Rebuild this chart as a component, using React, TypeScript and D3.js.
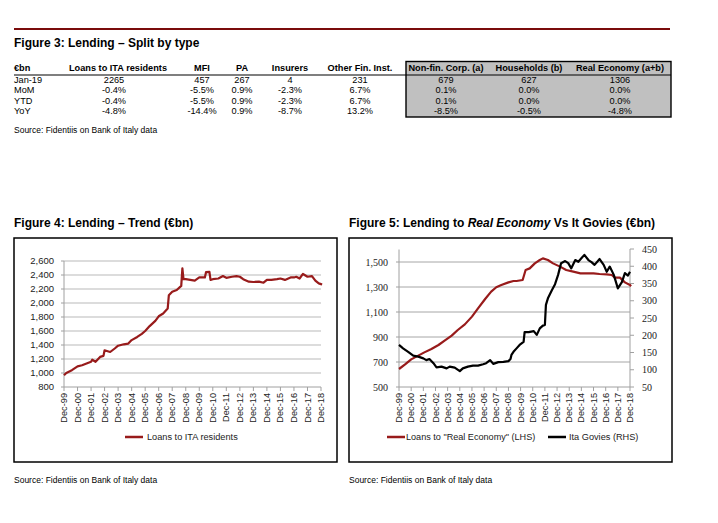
import React from "react"
import * as d3 from "d3"

// Figure 3 table
const tableHeaders = [
  "Loans to ITA residents",
  "MFI",
  "PA",
  "Insurers",
  "Other Fin. Inst.",
  "Non-fin. Corp. (a)",
  "Households (b)",
  "Real Economy (a+b)",
]
const tableRowLabels = ["Jan-19", "MoM", "YTD", "YoY"]
const tableValues = [
  ["2265", "457", "267", "4", "231", "679", "627", "1306"],
  ["-0.4%", "-5.5%", "0.9%", "-2.3%", "6.7%", "0.1%", "0.0%", "0.0%"],
  ["-0.4%", "-5.5%", "0.9%", "-2.3%", "6.7%", "0.1%", "0.0%", "0.0%"],
  ["-4.8%", "-14.4%", "0.9%", "-8.7%", "13.2%", "-8.5%", "-0.5%", "-4.8%"],
]

// x tick labels shared by both charts
const yearTicks = [
  "Dec-99", "Dec-00", "Dec-01", "Dec-02", "Dec-03", "Dec-04", "Dec-05", "Dec-06", "Dec-07", "Dec-08",
  "Dec-09", "Dec-10", "Dec-11", "Dec-12", "Dec-13", "Dec-14", "Dec-15", "Dec-16", "Dec-17", "Dec-18",
]

// Figure 4: loans to ITA residents (€bn)
const loansDates = [
  "1999-12", "2000-02", "2000-07", "2000-12", "2001-04", "2001-08", "2001-12", "2002-01", "2002-04", "2002-08",
  "2002-11", "2002-12", "2003-02", "2003-05", "2003-09", "2003-12", "2004-05", "2004-09", "2004-12", "2005-05",
  "2005-09", "2005-12", "2006-04", "2006-09", "2006-12", "2007-04", "2007-08", "2007-09", "2007-12", "2008-04",
  "2008-08", "2008-09", "2008-10", "2008-12", "2009-04", "2009-08", "2009-12", "2010-05", "2010-06", "2010-09",
  "2010-10", "2010-12", "2011-05", "2011-09", "2011-12", "2012-05", "2012-09", "2012-12", "2013-03", "2013-08",
  "2013-12", "2014-05", "2014-09", "2014-12", "2015-04", "2015-09", "2015-12", "2016-04", "2016-09", "2016-12",
  "2017-02", "2017-05", "2017-08", "2017-12", "2018-04", "2018-07", "2018-10", "2018-12", "2019-01",
]
const loansValues = [
  967, 1000, 1040, 1095, 1110, 1135, 1160, 1190, 1160, 1230,
  1245, 1325, 1315, 1300, 1350, 1390, 1410, 1420, 1470, 1515,
  1560, 1600, 1670, 1745, 1810, 1850, 1920, 2110, 2160, 2185,
  2245, 2495, 2340, 2340, 2330, 2320, 2365, 2365, 2440, 2445,
  2330, 2340, 2350, 2385, 2360, 2375, 2385, 2375, 2340, 2305,
  2300, 2305, 2290, 2330, 2330, 2340, 2350, 2330, 2365, 2365,
  2375, 2350, 2415, 2375, 2385, 2320, 2280, 2270, 2265,
]
const loansTicks = [800, 1000, 1200, 1400, 1600, 1800, 2000, 2200, 2400, 2600]

// Figure 5: loans to real economy (LHS) vs Italian govies (RHS)
const realEcoDates = [
  "1999-12", "2000-06", "2000-12", "2001-07", "2002-01", "2002-08", "2003-03", "2003-09", "2004-04", "2004-10",
  "2005-05", "2005-12", "2006-06", "2007-01", "2007-07", "2007-12", "2008-05", "2008-12", "2009-05", "2009-08",
  "2010-02", "2010-05", "2010-09", "2011-02", "2011-07", "2011-10", "2012-03", "2012-08", "2013-03", "2013-09",
  "2014-04", "2014-11", "2015-05", "2015-12", "2016-06", "2017-01", "2017-06", "2017-09", "2018-02", "2018-07",
  "2018-12", "2019-01",
]
const realEcoValues = [
  644, 681, 721, 751, 777, 804, 836, 871, 911, 956,
  1001, 1063, 1129, 1204, 1263, 1298, 1316, 1337, 1348, 1348,
  1356, 1436, 1449, 1489, 1516, 1529, 1516, 1489, 1463, 1436,
  1423, 1409, 1409, 1409, 1404, 1401, 1396, 1375, 1375, 1337,
  1316, 1306,
]
const govDates = [
  "1999-12", "2000-04", "2000-09", "2001-02", "2001-07", "2001-12", "2002-03", "2002-06", "2002-10", "2003-01",
  "2003-06", "2003-11", "2004-02", "2004-07", "2004-12", "2005-03", "2005-08", "2006-01", "2006-06", "2006-11",
  "2007-02", "2007-06", "2007-09", "2008-02", "2008-07", "2008-12", "2009-02", "2009-03", "2009-05", "2009-08",
  "2009-11", "2010-03", "2010-04", "2010-08", "2011-01", "2011-04", "2011-07", "2011-10", "2011-12", "2012-01",
  "2012-03", "2012-07", "2012-10", "2013-01", "2013-04", "2013-08", "2013-11", "2014-02", "2014-06", "2014-09",
  "2014-12", "2015-03", "2015-07", "2015-10", "2016-01", "2016-06", "2016-10", "2017-01", "2017-04", "2017-08",
  "2017-12", "2018-04", "2018-07", "2018-10", "2018-12",
]
const govValues = [
  172, 162, 152, 141, 138, 133, 128, 131, 119, 107,
  109, 104, 109, 106, 96, 104, 109, 112, 112, 116,
  119, 128, 117, 122, 123, 125, 131, 143, 152, 162,
  172, 181, 209, 209, 212, 201, 220, 228, 230, 288,
  307, 331, 348, 375, 409, 415, 409, 394, 418, 413,
  423, 433, 418, 412, 404, 421, 404, 384, 399, 375,
  336, 354, 380, 373, 384,
]
const leftTicks = [500, 700, 900, 1100, 1300, 1500]
const rightTicks = [50, 100, 150, 200, 250, 300, 350, 400, 450]

const RED = "#981b1b"
const SANS = "'Liberation Sans', Arial, sans-serif"
const SERIF = "'Liberation Serif', 'Times New Roman', serif"

const parseMonth = d3.timeParse("%Y-%m")
const parseTick = d3.timeParse("%b-%y")
const tickDates = yearTicks.map((t) => parseTick(t) as Date)

type Pt = { date: Date; value: number }
const zip = (dates: string[], values: number[]): Pt[] =>
  dates.map((d, i) => ({ date: parseMonth(d) as Date, value: values[i] }))

const colCenters = [114, 202, 242, 290, 360, 446, 529, 620]
const rowBaselines = [82.5, 93, 103.5, 114]

const Table = () => (
  <g fontFamily={SANS} fontSize={9.2}>
    <rect x={406} y={61.5} width={265} height={55.5} fill="#c0c0c0" stroke="#000" strokeWidth={1.4} />
    <line x1={14} x2={406} y1={75} y2={75} stroke="#000" strokeWidth={1.2} />
    <line x1={406} x2={671} y1={75} y2={75} stroke="#000" strokeWidth={1.2} />
    <text x={14} y={71} fontWeight="bold">€bn</text>
    {tableHeaders.map((h, i) => (
      <text key={h} x={i === 0 ? 118 : colCenters[i]} y={71} textAnchor="middle" fontWeight="bold">
        {h}
      </text>
    ))}
    {tableRowLabels.map((r, j) => (
      <g key={r}>
        <text x={14} y={rowBaselines[j]}>{r}</text>
        {tableValues[j].map((v, i) => (
          <text key={i} x={colCenters[i]} y={rowBaselines[j]} textAnchor="middle">
            {v}
          </text>
        ))}
      </g>
    ))}
  </g>
)

const XAxis = ({ x, y0, x0, x1 }: { x: d3.ScaleTime<number, number>; y0: number; x0: number; x1: number }) => (
  <g>
    <line x1={x0} x2={x1} y1={y0} y2={y0} stroke="#a0a0a0" strokeWidth={1} />
    {tickDates.map((d, i) => (
      <g key={i}>
        <line x1={x(d)} x2={x(d)} y1={y0} y2={y0 + 4} stroke="#a0a0a0" />
        <text
          transform={`translate(${x(d)},${y0 + 6}) rotate(-90)`}
          textAnchor="end"
          dy="0.33em"
          fontSize={9.2}
          fontFamily={SANS}
          fill="#222"
        >
          {yearTicks[i]}
        </text>
      </g>
    ))}
  </g>
)

const TrendChart = () => {
  const data = zip(loansDates, loansValues)
  const x = d3.scaleTime().domain([tickDates[0], tickDates[tickDates.length - 1]]).range([64, 321])
  const y = d3.scaleLinear().domain([800, 2600]).range([387, 261])
  const line = d3
    .line<Pt>()
    .x((d) => x(d.date))
    .y((d) => y(d.value))
  const fmt = d3.format(",")
  return (
    <g>
      <rect x={14} y={238} width={323} height={224} fill="none" stroke="#000" strokeWidth={1.5} />
      {loansTicks.slice(1).map((t) => (
        <line key={t} x1={64} x2={321} y1={y(t)} y2={y(t)} stroke="#d0d0d0" strokeWidth={1.4} />
      ))}
      <line x1={64} x2={64} y1={y(2600)} y2={y(800)} stroke="#a0a0a0" />
      {loansTicks.map((t) => (
        <g key={t}>
          <line x1={61} x2={64} y1={y(t)} y2={y(t)} stroke="#a0a0a0" />
          <text x={54} y={y(t)} dy="0.35em" textAnchor="end" fontSize={9.5} fontFamily={SANS} fill="#222">
            {fmt(t)}
          </text>
        </g>
      ))}
      <XAxis x={x} y0={387} x0={64} x1={321} />
      <path d={line(data) ?? ""} fill="none" stroke={RED} strokeWidth={2.2} strokeLinejoin="round" />
      <line x1={125} x2={143} y1={437} y2={437} stroke={RED} strokeWidth={2.5} />
      <text x={147} y={437} dy="0.35em" fontSize={9.2} fontFamily={SANS} fill="#222">
        Loans to ITA residents
      </text>
    </g>
  )
}

const GoviesChart = () => {
  const re = zip(realEcoDates, realEcoValues)
  const gv = zip(govDates, govValues)
  const x = d3.scaleTime().domain([tickDates[0], tickDates[tickDates.length - 1]]).range([399, 630])
  const yL = d3.scaleLinear().domain([500, 1600]).range([387, 249.5])
  const yR = d3.scaleLinear().domain([50, 450]).range([387, 249])
  const lineL = d3
    .line<Pt>()
    .x((d) => x(d.date))
    .y((d) => yL(d.value))
  const lineR = d3
    .line<Pt>()
    .x((d) => x(d.date))
    .y((d) => yR(d.value))
  const fmt = d3.format(",")
  return (
    <g>
      <rect x={349} y={238} width={323} height={224} fill="none" stroke="#000" strokeWidth={1.5} />
      {leftTicks.slice(1).map((t) => (
        <line key={t} x1={399} x2={630} y1={yL(t)} y2={yL(t)} stroke="#a6a6a6" strokeWidth={1} />
      ))}
      <line x1={399} x2={399} y1={249.5} y2={387} stroke="#a0a0a0" />
      <line x1={630} x2={630} y1={249} y2={387} stroke="#a0a0a0" />
      {leftTicks.map((t) => (
        <g key={t}>
          <line x1={396} x2={399} y1={yL(t)} y2={yL(t)} stroke="#a0a0a0" />
          <text x={388} y={yL(t)} dy="0.35em" textAnchor="end" fontSize={10} fontFamily={SERIF} fill="#222">
            {fmt(t)}
          </text>
        </g>
      ))}
      {rightTicks.map((t) => (
        <g key={t}>
          <line x1={630} x2={634} y1={yR(t)} y2={yR(t)} stroke="#a0a0a0" />
          <text x={642} y={yR(t)} dy="0.35em" fontSize={10} fontFamily={SERIF} fill="#222">
            {t}
          </text>
        </g>
      ))}
      <XAxis x={x} y0={387} x0={399} x1={630} />
      <path d={lineL(re) ?? ""} fill="none" stroke={RED} strokeWidth={2.2} strokeLinejoin="round" />
      <path d={lineR(gv) ?? ""} fill="none" stroke="#000" strokeWidth={2.2} strokeLinejoin="round" />
      <line x1={387} x2={405} y1={437} y2={437} stroke={RED} strokeWidth={2.5} />
      <text x={406} y={437} dy="0.35em" fontSize={9.1} fontFamily={SANS} fill="#222">
        Loans to "Real Economy" (LHS)
      </text>
      <line x1={548} x2={566} y1={437} y2={437} stroke="#000" strokeWidth={2.5} />
      <text x={569} y={437} dy="0.35em" fontSize={9.2} fontFamily={SANS} fill="#222">
        Ita Govies (RHS)
      </text>
    </g>
  )
}

export default function App() {
  return (
    <svg
      width={718}
      height={523}
      style={{ position: "absolute", left: 0, top: 0, background: "#fff" }}
      fontFamily={SANS}
    >
      <rect width={718} height={523} fill="#fff" />
      <line x1={14} x2={670} y1={29} y2={29} stroke="#7a0c0c" strokeWidth={2} />
      <text x={14} y={46.5} fontSize={12} fontWeight="bold">Figure 3: Lending – Split by type</text>
      <Table />
      <text x={14} y={133} fontSize={8.5}>Source: Fidentiis on Bank of Italy data</text>

      <text x={14} y={227} fontSize={12} fontWeight="bold">Figure 4: Lending – Trend (€bn)</text>
      <TrendChart />
      <text x={14} y={483} fontSize={8.5}>Source: Fidentiis on Bank of Italy data</text>

      <text x={349} y={227} fontSize={12} fontWeight="bold">
        Figure 5: Lending to <tspan fontStyle="italic">Real Economy</tspan> Vs It Govies (€bn)
      </text>
      <GoviesChart />
      <text x={349} y={483} fontSize={8.5}>Source: Fidentiis on Bank of Italy data</text>
    </svg>
  )
}
